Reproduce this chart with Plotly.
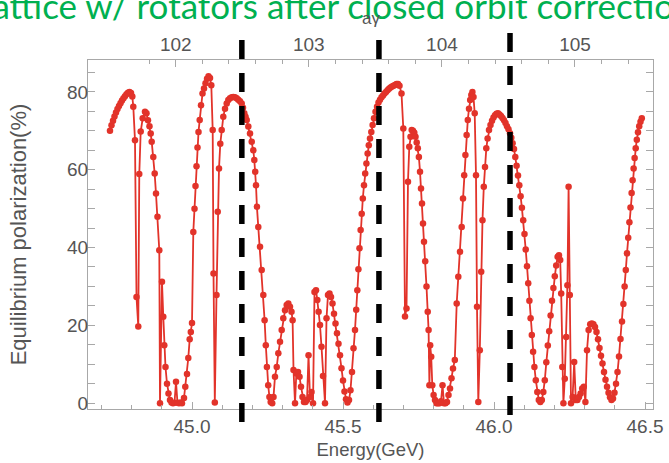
import plotly.graph_objects as go

# ---------------- data ----------------
energy = [
    44.7284, 44.7334, 44.7384, 44.7433, 44.7483, 44.7532, 44.7582, 44.7632, 44.7681, 44.7731,
    44.7781, 44.7830, 44.7880, 44.7930, 44.7980, 44.8023, 44.8056, 44.8112, 44.8162, 44.8221,
    44.8254, 44.8301, 44.8367, 44.8443, 44.8493, 44.8542, 44.8592, 44.8632, 44.8665, 44.8718,
    44.8764, 44.8807, 44.8857, 44.8917, 44.8940, 44.9006, 44.9049, 44.9082, 44.9122, 44.9172,
    44.9221, 44.9271, 44.9321, 44.9370, 44.9420, 44.9470, 44.9519, 44.9569, 44.9619, 44.9668,
    44.9735, 44.9778, 44.9834, 44.9877, 44.9923, 44.9960, 45.0000, 45.0043, 45.0083, 45.0116,
    45.0149, 45.0182, 45.0215, 45.0255, 45.0298, 45.0348, 45.0397, 45.0447, 45.0497, 45.0546,
    45.0596, 45.0639, 45.0685, 45.0712, 45.0755, 45.0811, 45.0851, 45.0894, 45.0937, 45.0983,
    45.1036, 45.1093, 45.1149, 45.1202, 45.1258, 45.1315, 45.1368, 45.1424, 45.1480, 45.1533,
    45.1589, 45.1646, 45.1689, 45.1732, 45.1772, 45.1811, 45.1864, 45.1921, 45.1977, 45.2030,
    45.2063, 45.2093, 45.2119, 45.2149, 45.2195, 45.2252, 45.2308, 45.2361, 45.2404, 45.2444,
    45.2480, 45.2523, 45.2563, 45.2606, 45.2656, 45.2699, 45.2748, 45.2805, 45.2858, 45.2914,
    45.2970, 45.3023, 45.3080, 45.3136, 45.3189, 45.3245, 45.3295, 45.3331, 45.3361, 45.3411,
    45.3454, 45.3510, 45.3560, 45.3609, 45.3659, 45.3709, 45.3758, 45.3808, 45.3858, 45.3907,
    45.3957, 45.4007, 45.4056, 45.4106, 45.4149, 45.4192, 45.4238, 45.4288, 45.4338, 45.4404,
    45.4454, 45.4503, 45.4553, 45.4603, 45.4652, 45.4702, 45.4752, 45.4801, 45.4851, 45.4901,
    45.4950, 45.5000, 45.5050, 45.5099, 45.5149, 45.5199, 45.5248, 45.5298, 45.5348, 45.5397,
    45.5437, 45.5474, 45.5510, 45.5546, 45.5583, 45.5619, 45.5656, 45.5695, 45.5735, 45.5775,
    45.5815, 45.5854, 45.5894, 45.5937, 45.5980, 45.6026, 45.6076, 45.6126, 45.6175, 45.6225,
    45.6275, 45.6325, 45.6374, 45.6424, 45.6474, 45.6523, 45.6573, 45.6623, 45.6672, 45.6722,
    45.6772, 45.6821, 45.6871, 45.6937, 45.6997, 45.7053, 45.7103, 45.7152, 45.7195, 45.7235,
    45.7275, 45.7318, 45.7361, 45.7401, 45.7440, 45.7477, 45.7513, 45.7550, 45.7583, 45.7616,
    45.7649, 45.7682, 45.7722, 45.7765, 45.7805, 45.7834, 45.7861, 45.7887, 45.7921, 45.7957,
    45.8000, 45.8046, 45.8096, 45.8146, 45.8195, 45.8245, 45.8295, 45.8344, 45.8394, 45.8444,
    45.8493, 45.8543, 45.8593, 45.8642, 45.8702, 45.8765, 45.8818, 45.8874, 45.8930, 45.8973,
    45.9013, 45.9053, 45.9093, 45.9132, 45.9172, 45.9212, 45.9248, 45.9285, 45.9321, 45.9361,
    45.9404, 45.9437, 45.9480, 45.9530, 45.9576, 45.9619, 45.9662, 45.9702, 45.9745, 45.9788,
    45.9834, 45.9884, 45.9934, 45.9983, 46.0033, 46.0083, 46.0132, 46.0182, 46.0232, 46.0281,
    46.0331, 46.0381, 46.0430, 46.0480, 46.0530, 46.0573, 46.0616, 46.0662, 46.0705, 46.0748,
    46.0795, 46.0838, 46.0881, 46.0924, 46.0967, 46.1010, 46.1050, 46.1093, 46.1133, 46.1172,
    46.1212, 46.1252, 46.1295, 46.1338, 46.1384, 46.1434, 46.1484, 46.1533, 46.1583, 46.1633,
    46.1682, 46.1732, 46.1782, 46.1828, 46.1874, 46.1921, 46.1967, 46.2013, 46.2060, 46.2106,
    46.2152, 46.2192, 46.2225, 46.2262, 46.2298, 46.2344, 46.2391, 46.2431, 46.2470, 46.2510,
    46.2550, 46.2603, 46.2656, 46.2709, 46.2762, 46.2815, 46.2868, 46.2921, 46.2974, 46.3027,
    46.3080, 46.3133, 46.3186, 46.3239, 46.3292, 46.3345, 46.3394, 46.3444, 46.3494, 46.3543,
    46.3593, 46.3643, 46.3692, 46.3742, 46.3792, 46.3841, 46.3891, 46.3941, 46.3990, 46.4040,
    46.4090, 46.4139, 46.4189, 46.4239, 46.4285, 46.4325, 46.4364, 46.4404, 46.4444, 46.4484,
    46.4520, 46.4557, 46.4590, 46.4623, 46.4656, 46.4692, 46.4729, 46.4768, 46.4808, 46.4851,
    46.4894,
]
polarization = [
    70.0, 71.4, 72.6, 73.7, 74.7, 75.6, 76.4, 77.1, 77.8, 78.4,
    78.9, 79.4, 79.8, 80.0, 79.7, 78.8, 76.2, 67.6, 27.3, 19.7,
    58.9, 69.8, 73.2, 74.9, 74.5, 72.7, 71.2, 69.3, 67.2, 63.3,
    59.0, 53.9, 47.9, 39.3, 0.0, 31.2, 22.2, 14.9, 9.3, 5.0,
    2.5, 0.8, 0.2, 0.0, 0.1, 5.5, 0.1, 0.0, 0.2, 0.0,
    1.3, 4.2, 7.5, 11.6, 16.4, 18.3, 20.6, 44.0, 50.0, 55.8,
    60.9, 65.7, 69.7, 72.8, 76.6, 79.6, 80.9, 82.2, 83.4, 84.0,
    83.6, 81.7, 70.2, 33.3, 0.2, 27.8, 49.2, 60.3, 66.7, 70.2,
    73.6, 75.7, 77.0, 77.9, 78.4, 78.6, 78.7, 78.6, 78.4, 78.0,
    77.6, 77.0, 75.9, 74.5, 73.6, 72.8, 71.1, 69.3, 67.2, 65.0,
    62.5, 59.5, 56.0, 50.5, 45.3, 40.2, 34.2, 27.8, 21.3, 14.9,
    9.3, 4.6, 1.6, 0.3, 0.0, 1.6, 6.8, 9.3, 12.8, 15.8,
    18.8, 21.8, 23.9, 25.2, 25.6, 24.8, 23.5, 21.3, 8.5, 0.0,
    7.6, 8.0, 6.8, 4.2, 1.6, 0.3, 0.3, 0.8, 12.3, 1.6,
    2.9, 0.0, 28.6, 29.0, 26.5, 23.5, 20.1, 14.5, 7.0, 0.0,
    21.8, 27.8, 28.2, 27.3, 25.6, 23.0, 20.5, 18.0, 15.3, 12.3,
    9.0, 5.8, 3.0, 1.0, 0.2, 0.8, 3.3, 8.0, 14.1, 18.8,
    24.0, 29.0, 34.4, 39.8, 44.5, 48.7, 52.6, 56.0, 59.0, 61.6,
    64.2, 66.3, 68.0, 69.7, 71.5, 73.2, 74.9, 76.2, 77.3, 78.0,
    78.6, 79.1, 79.6, 80.0, 80.4, 80.8, 81.1, 81.4, 81.6, 81.8,
    82.0, 82.0, 81.6, 79.6, 70.6, 22.3, 24.3, 56.9, 65.9, 68.5,
    70.2, 70.0, 69.5, 68.5, 67.0, 65.5, 63.3, 59.5, 55.2, 51.3,
    46.2, 41.5, 36.5, 30.0, 23.5, 18.8, 4.6, 14.9, 11.9, 4.6,
    2.1, 0.8, 0.0, 0.0, 0.0, 0.5, 4.6, 0.0, 0.0, 0.3,
    2.1, 3.8, 6.4, 8.9, 11.1, 25.6, 32.5, 38.9, 45.3, 52.6,
    58.6, 63.8, 68.9, 72.8, 75.7, 77.9, 79.2, 80.0, 78.7, 74.5,
    58.6, 24.8, 0.3, 13.6, 33.8, 47.0, 55.6, 60.7, 65.5, 68.0,
    70.2, 71.5, 72.6, 73.4, 74.0, 74.4, 74.5, 74.2, 73.8, 73.3,
    72.7, 72.0, 71.2, 70.4, 69.4, 68.2, 66.8, 65.3, 63.3, 61.0,
    58.5, 56.0, 53.2, 50.2, 47.0, 43.5, 39.5, 35.2, 30.8, 26.3,
    21.8, 17.5, 13.2, 9.3, 5.9, 2.9, 0.8, 0.3, 0.8, 2.9,
    5.9, 10.5, 14.8, 18.5, 22.5, 26.3, 29.6, 32.6, 35.4, 37.6,
    38.0, 36.8, 28.2, 9.3, 0.0, 6.3, 17.0, 30.3, 55.6, 27.8,
    0.0, 1.6, 10.6, 0.8, 0.8, 1.6, 2.5, 3.8, 4.2, 0.3,
    13.6, 18.8, 20.3, 20.5, 20.3, 19.6, 18.3, 16.4, 14.2, 12.2,
    10.2, 8.0, 6.0, 4.2, 2.7, 1.5, 0.8, 1.2, 2.7, 5.0,
    8.0, 12.0, 16.5, 21.0, 25.5, 30.0, 34.2, 38.5, 42.5, 46.5,
    50.3, 54.0, 57.3, 60.3, 63.0, 65.5, 67.7, 69.6, 71.2, 72.3,
    73.2,
]

# half-integer spin resonances marked in the picture (GeV)
resonance_energy = [45.165, 45.619, 46.053]

# bottom axis ticks
x_tick_vals = [45.0, 45.5, 46.0, 46.5]
x_tick_text = ["45.0", "45.5", "46.0", "46.5"]
# left axis ticks
y_tick_vals = [0, 20, 40, 60, 80]
y_tick_text = ["0", "20", "40", "60", "80"]
# top axis: spin tune a*gamma
agamma_ticks = [102, 103, 104, 105]
agamma_minor = [101.8, 102.2, 102.4, 102.6, 102.8, 103.2, 103.4, 103.6, 103.8,
                104.2, 104.4, 104.6, 104.8, 105.2, 105.4, 105.6]
GEV_PER_AGAMMA = 0.440649

title_text = "Lattice w/ rotators after closed orbit correction"

# ---------------- figure ----------------
RED = "#E2332A"
GRAY_TXT = "#555555"
FRAME = "#a8a8a8"
XR = [44.6556, 46.5265]
YR = [-1.5, 88.2]
TICK_FS = 19

fig = go.Figure()
fig.add_trace(go.Scatter(
    x=energy, y=polarization, mode="lines+markers",
    line=dict(color=RED, width=1.8),
    marker=dict(color=RED, size=6.5),
    showlegend=False, hoverinfo="x+y",
))
# invisible trace to carry the top a*gamma axis
fig.add_trace(go.Scatter(x=[XR[0]], y=[YR[0]], xaxis="x2", mode="markers",
                         marker=dict(opacity=0), showlegend=False, hoverinfo="skip"))

font_family = "Liberation Sans, Arial, sans-serif"

fig.update_layout(
    width=669, height=463,
    margin=dict(l=88, r=16, t=60, b=54),
    paper_bgcolor="white", plot_bgcolor="white",
    font=dict(family=font_family, color=GRAY_TXT, size=17),
    title=dict(text=title_text, x=(334 / 669), xanchor="center", xref="container",
               y=0.9853, yanchor="middle", yref="container",
               font=dict(family="Lato, sans-serif", size=35, color="#00B050")),
    xaxis=dict(
        range=XR, tickmode="array", tickvals=x_tick_vals, ticktext=x_tick_text,
        ticks="inside", ticklen=7, tickwidth=1, tickcolor=FRAME,
        minor=dict(dtick=0.1, tick0=45.0, ticks="inside", ticklen=4, tickcolor=FRAME),
        showline=True, linecolor=FRAME, linewidth=1, mirror=True,
        showgrid=False, zeroline=False, automargin=False,
        tickfont=dict(size=TICK_FS, color=GRAY_TXT),
        title=dict(text="Energy(GeV)", font=dict(size=18.5, color=GRAY_TXT), standoff=7),
    ),
    xaxis2=dict(
        overlaying="x", side="top", range=XR,
        tickmode="array", tickvals=[a * GEV_PER_AGAMMA for a in agamma_ticks],
        ticktext=[str(a) for a in agamma_ticks],
        ticks="inside", ticklen=7, tickwidth=1, tickcolor=FRAME,
        minor=dict(tickmode="array", tickvals=[a * GEV_PER_AGAMMA for a in agamma_minor],
                   ticks="inside", ticklen=4, tickcolor=FRAME),
        showline=False, showgrid=False, zeroline=False, automargin=False,
        ticklabelstandoff=4,
        tickfont=dict(size=TICK_FS, color=GRAY_TXT),
    ),
    yaxis=dict(
        range=YR, tickmode="array", tickvals=y_tick_vals, ticktext=y_tick_text,
        ticks="inside", ticklen=7, tickwidth=1, tickcolor=FRAME,
        minor=dict(dtick=5, tick0=0, ticks="inside", ticklen=4, tickcolor=FRAME),
        showline=True, linecolor=FRAME, linewidth=1, mirror="allticks",
        showgrid=False, zeroline=False, automargin=False,
        ticklabelstandoff=-5,
        tickfont=dict(size=TICK_FS, color=GRAY_TXT),
        title=dict(text="Equilibrium polarization(%)", font=dict(size=22, color=GRAY_TXT), standoff=34),
    ),
)

# top-axis title (a*gamma), centred over the frame
fig.add_annotation(text="a\u03b3", xref="paper", yref="paper",
                   x=0.5, y=(409 - 18) / 349,
                   xanchor="center", yanchor="middle", showarrow=False,
                   font=dict(size=17, color=GRAY_TXT))

tops = [1.0573, 1.0573, 1.0774]
for e, t in zip(resonance_energy, tops):
    fig.add_shape(type="line", xref="x", yref="paper", x0=e, x1=e, y0=t, y1=-0.046,
                  line=dict(color="black", width=5.5, dash="19px,14px"), layer="above")

fig.write_html("out.html")
